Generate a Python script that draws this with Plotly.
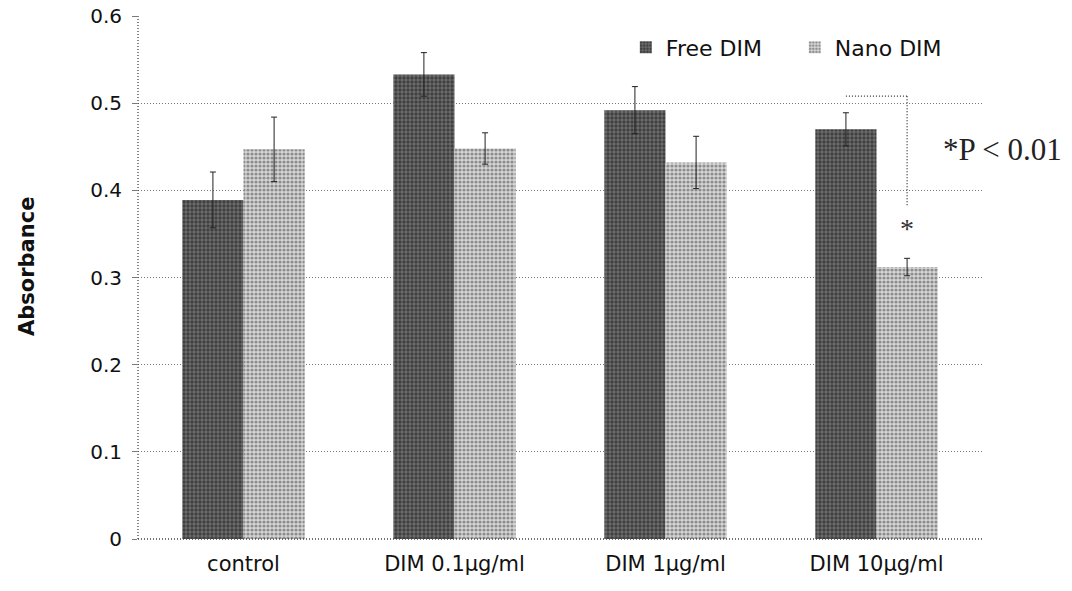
import plotly.graph_objects as go

# Absorbance readings per treatment group
categories = ["control", "DIM 0.1µg/ml", "DIM 1µg/ml", "DIM 10µg/ml"]
free_dim = [0.389, 0.533, 0.492, 0.470]
free_dim_err = [0.032, 0.025, 0.027, 0.019]
nano_dim = [0.447, 0.448, 0.432, 0.312]
nano_dim_err = [0.037, 0.018, 0.030, 0.010]
y_ticks = [0, 0.1, 0.2, 0.3, 0.4, 0.5, 0.6]

BARGAP = 0.42
GRID = "#7a7a7a"
SANS = "DejaVu Sans"
SERIF = "Liberation Serif"

fig = go.Figure()
fig.add_trace(go.Bar(
    name="Free DIM", x=categories, y=free_dim,
    marker=dict(color="#6e6e6e", line=dict(width=0),
                pattern=dict(shape=".", fgcolor="#111111", size=4, solidity=0.55,
                             fillmode="overlay")),
    error_y=dict(type="data", array=free_dim_err, color="#222", thickness=1, width=3),
))
fig.add_trace(go.Bar(
    name="Nano DIM", x=categories, y=nano_dim,
    marker=dict(color="#d6d6d6", line=dict(width=0),
                pattern=dict(shape=".", fgcolor="#444444", size=4, solidity=0.5,
                             fillmode="overlay")),
    error_y=dict(type="data", array=nano_dim_err, color="#222", thickness=1, width=3),
))

# significance bracket between the two 10 µg/ml bars
half = (1 - BARGAP) / 4
i10 = categories.index("DIM 10µg/ml")
x_free = i10 - half
x_nano = i10 + half
bracket_top = free_dim[i10] + free_dim_err[i10] + 0.019
bracket_bottom = 0.383
line_style = dict(color="#333", width=1.3, dash="1px,2px")
fig.add_shape(type="line", xref="x", yref="y", x0=x_free, x1=x_nano,
              y0=bracket_top, y1=bracket_top, line=line_style)
fig.add_shape(type="line", xref="x", yref="y", x0=x_nano, x1=x_nano,
              y0=bracket_top, y1=bracket_bottom, line=line_style)
fig.add_annotation(x=x_nano, y=0.356, xref="x", yref="y", text="*", showarrow=False,
                   font=dict(family=SERIF, size=28, color="#333"))
fig.add_annotation(x=1.0, y=0.745, xref="paper", yref="paper", text="*P < 0.01",
                   showarrow=False, xanchor="center", yanchor="middle",
                   xshift=20,
                   font=dict(family=SERIF, size=31, color="#222"))

# dotted left and bottom axis lines
axis_line = dict(color="#444", width=1.3, dash="1px,2px")
fig.add_shape(type="line", xref="paper", yref="paper", x0=0, x1=0, y0=0, y1=1,
              line=axis_line)
fig.add_shape(type="line", xref="paper", yref="paper", x0=0, x1=1, y0=0, y1=0,
              line=axis_line)

# rotated y-axis title
fig.add_annotation(x=(27 - 138) / (1072 - 138 - 90), y=(591 - 52 - 267) / (591 - 16 - 52),
                   xref="paper", yref="paper", text="<b>Absorbance</b>",
                   showarrow=False, textangle=-90, xanchor="center", yanchor="middle",
                   font=dict(family=SANS, size=21, color="#111"))

fig.update_layout(
    width=1072, height=591,
    margin=dict(l=138, r=90, t=16, b=52, autoexpand=False),
    paper_bgcolor="white", plot_bgcolor="white",
    barmode="group", bargap=BARGAP, bargroupgap=0,
    font=dict(family=SANS, color="#111"),
    showlegend=True,
    legend=dict(orientation="h", x=0.578, y=0.94, xanchor="left", yanchor="middle",
                font=dict(family=SANS, size=22, color="#111"),
                bgcolor="rgba(0,0,0,0)", itemwidth=30, traceorder="normal",
                entrywidth=124, entrywidthmode="pixels"),
    xaxis=dict(showgrid=False, showline=False, zeroline=False, ticks="",
               ticklabelstandoff=10,
               tickfont=dict(family=SANS, size=21, color="#111")),
    yaxis=dict(range=[0, 0.6], tickvals=y_ticks, showgrid=True, gridcolor=GRID,
               griddash="1px,2px", gridwidth=1, zeroline=False, showline=False,
               ticks="outside", ticklen=5, tickcolor=GRID, ticklabelstandoff=6,
               tickfont=dict(family=SANS, size=20, color="#111")),
)

fig.write_html("out.html")
